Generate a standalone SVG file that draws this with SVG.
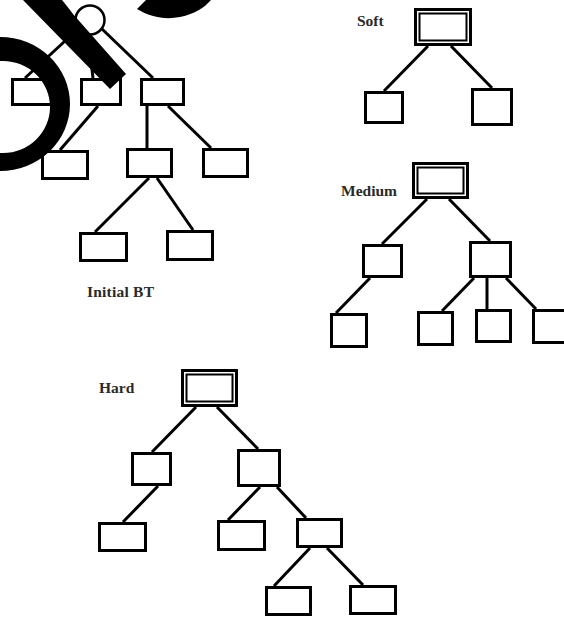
<svg xmlns="http://www.w3.org/2000/svg" width="564" height="617" viewBox="0 0 564 617">
<style>
.b{fill:#fff;stroke:#000;stroke-width:3}
.o{fill:#fff;stroke:#000;stroke-width:3}
.i{fill:none;stroke:#000;stroke-width:2}
.e line{stroke:#000;stroke-width:3;stroke-linecap:butt}
.t{font-family:"Liberation Serif","Times New Roman",serif;font-weight:bold;font-size:15.5px;fill:#2a2a2a}
.k{fill:#000}
</style>
<rect width="564" height="617" fill="#fff"/>
<g class="e" id="connectors">
<line x1="78" y1="29" x2="25" y2="78"/>
<line x1="88" y1="35" x2="93" y2="78"/>
<line x1="102" y1="29" x2="153" y2="78"/>
<line x1="98" y1="106" x2="60" y2="150"/>
<line x1="147" y1="106" x2="147" y2="148"/>
<line x1="168" y1="106" x2="211" y2="148"/>
<line x1="149" y1="178" x2="95" y2="232"/>
<line x1="157" y1="178" x2="193" y2="230"/>
<line x1="428" y1="46" x2="384" y2="91"/>
<line x1="451" y1="46" x2="492" y2="88"/>
<line x1="427" y1="199" x2="382" y2="244"/>
<line x1="449" y1="199" x2="490" y2="241"/>
<line x1="370" y1="278" x2="336" y2="313"/>
<line x1="474" y1="278" x2="442" y2="311"/>
<line x1="487" y1="278" x2="487" y2="309"/>
<line x1="506" y1="278" x2="536" y2="309"/>
<line x1="196" y1="407" x2="152" y2="452"/>
<line x1="217" y1="407" x2="258" y2="449"/>
<line x1="158" y1="486" x2="123" y2="522"/>
<line x1="260" y1="487" x2="228" y2="520"/>
<line x1="277" y1="487" x2="306" y2="518"/>
<line x1="310" y1="548" x2="274" y2="586"/>
<line x1="327" y1="548" x2="363" y2="585"/>
</g>
<g id="init-root"><circle cx="90" cy="20" r="14.5" fill="#fff" stroke="#000" stroke-width="2.5"/></g>
<g id="init-a"><rect class="b" x="12.5" y="79.5" width="41" height="25"/></g>
<g id="init-b"><rect class="b" x="81.5" y="79.5" width="39" height="25"/></g>
<g id="init-c"><rect class="b" x="141.5" y="79.5" width="42" height="25"/></g>
<g id="init-d"><rect class="b" x="42.5" y="151.5" width="45" height="27"/></g>
<g id="init-e"><rect class="b" x="127.5" y="149.5" width="44" height="27"/></g>
<g id="init-f"><rect class="b" x="203.5" y="149.5" width="44" height="27"/></g>
<g id="init-g"><rect class="b" x="80.5" y="233.5" width="46" height="27"/></g>
<g id="init-h"><rect class="b" x="167.5" y="231.5" width="45" height="28"/></g>
<g id="init-label"><text class="t" x="87" y="297" textLength="67">Initial BT</text></g>

<g id="soft-label"><text class="t" x="357" y="26">Soft</text></g>
<g id="soft-root"><rect class="o" x="415.5" y="9.5" width="55" height="35"/><rect class="i" x="419.5" y="13.5" width="47" height="27"/></g>
<g id="soft-l"><rect class="b" x="365.5" y="92.5" width="37" height="30"/></g>
<g id="soft-r"><rect class="b" x="472.5" y="89.5" width="39" height="35"/></g>

<g id="medium-label"><text class="t" x="341" y="196">Medium</text></g>
<g id="medium-root"><rect class="o" x="413.5" y="163.5" width="54" height="34"/><rect class="i" x="417.5" y="167.5" width="46" height="26"/></g>
<g id="medium-l"><rect class="b" x="363.5" y="245.5" width="38" height="31"/></g>
<g id="medium-r"><rect class="b" x="470.5" y="242.5" width="40" height="34"/></g>
<g id="medium-ll"><rect class="b" x="331.5" y="314.5" width="35" height="32"/></g>
<g id="medium-r1"><rect class="b" x="418.5" y="312.5" width="34" height="32"/></g>
<g id="medium-r2"><rect class="b" x="476.5" y="310.5" width="34" height="31"/></g>
<g id="medium-r3"><rect class="b" x="533.5" y="310.5" width="38" height="32"/></g>

<g id="hard-label"><text class="t" x="99" y="393">Hard</text></g>
<g id="hard-root"><rect class="o" x="182.5" y="370.5" width="54" height="35"/><rect class="i" x="186.5" y="374.5" width="46" height="27"/></g>
<g id="hard-l"><rect class="b" x="132.5" y="453.5" width="38" height="31"/></g>
<g id="hard-r"><rect class="b" x="238.5" y="450.5" width="41" height="35"/></g>
<g id="hard-ll"><rect class="b" x="99.5" y="523.5" width="46" height="27"/></g>
<g id="hard-rl"><rect class="b" x="218.5" y="521.5" width="46" height="28"/></g>
<g id="hard-rr"><rect class="b" x="297.5" y="519.5" width="44" height="27"/></g>
<g id="hard-rrl"><rect class="b" x="266.5" y="587.5" width="44" height="27"/></g>
<g id="hard-rrr"><rect class="b" x="350.5" y="586.5" width="45" height="27"/></g>

<g id="overlay">
<path class="k" fill-rule="evenodd" d="M-70,104 A70,67 0 1 0 70,104 A70,67 0 1 0 -70,104 Z M-44,107 A47,46 0 1 0 50,107 A47,46 0 1 0 -44,107 Z"/>
<path class="k" d="M23,0 L110,89 L126,74 L73,14 Q67,6 62,0 Z"/>
<path class="k" d="M146,0 L137,9 C150,17 165,20 180,17 C195,14 205,7 211,0 Z"/>
</g>
</svg>
